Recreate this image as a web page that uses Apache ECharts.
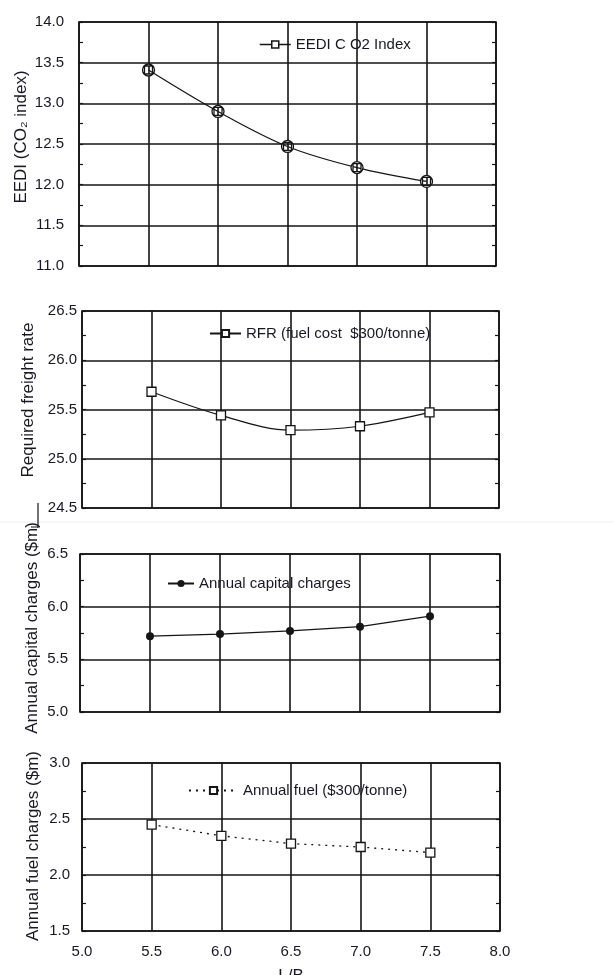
<!DOCTYPE html>
<html>
<head>
<meta charset="utf-8">
<script src="https://cdn.jsdelivr.net/npm/echarts@6/dist/echarts.min.js"></script>
<style>
  html, body { margin: 0; padding: 0; background: #fff; }
  #chart { width: 614px; height: 975px; }
</style>
</head>
<body>
<div id="chart"></div>
<script>
// Length/beam ratio sampled by the design study
const lbRatio = [5.5, 6.0, 6.5, 7.0, 7.5];
// EEDI CO2 index
const eediIndex = [13.41, 12.90, 12.47, 12.21, 12.04];
// Required freight rate at $300/tonne fuel
const freightRate = [25.68, 25.44, 25.29, 25.33, 25.47];
// Annual capital charges ($m)
const capitalCharges = [5.72, 5.74, 5.77, 5.81, 5.91];
// Annual fuel charges ($m) at $300/tonne
const fuelCharges = [2.45, 2.35, 2.28, 2.25, 2.20];

// Axis ranges per panel: [min, max]
const eediRange = [11, 14];
const rfrRange = [24.5, 26.5];
const capitalRange = [5, 6.5];
const fuelRange = [1.5, 3];
const xRange = [5, 8];

const seriesNames = [
  'EEDI C O2 Index',
  'RFR (fuel cost  $300/tonne)',
  'Annual capital charges',
  'Annual fuel ($300/tonne)'
];
const yNames = [
  'EEDI (CO\u2082 index)',
  'Required freight rate',
  'Annual capital charges ($m)',
  'Annual fuel charges ($m)'
];

const INK = '#151515';
const TXT = '#181824';
const FONT = '"Liberation Sans", Arial, sans-serif';

const pairs = vals => lbRatio.map((x, i) => [x, vals[i]]);

const grids = [
  { left: 79, top: 22, width: 417, height: 244 },
  { left: 82, top: 311, width: 417, height: 197 },
  { left: 80, top: 554, width: 420, height: 158 },
  { left: 82, top: 763, width: 418, height: 168 }
].map(g => Object.assign({
  show: true, borderColor: INK, borderWidth: 1.6, backgroundColor: 'transparent',
  containLabel: false, outerBoundsMode: 'none'
}, g));

const ranges = [eediRange, rfrRange, capitalRange, fuelRange];
const labelMargins = [15, 5, 12, 12];
// Rotated axis titles: centre point of each
const yNamePos = [[21, 137], [28, 400], [32, 628], [33, 846]];

const xAxes = grids.map((g, i) => ({
  type: 'value',
  gridIndex: i,
  min: xRange[0],
  max: xRange[1],
  interval: 0.5,
  axisLine: { show: false },
  axisTick: { show: false },
  splitLine: { show: true, lineStyle: { color: INK, width: 1.6 } },
  axisLabel: {
    show: i === 3,
    margin: 13,
    color: TXT,
    fontSize: 15,
    fontFamily: FONT,
    formatter: v => v.toFixed(1)
  },
  name: i === 3 ? 'L/B' : '',
  nameLocation: 'middle',
  nameGap: 37,
  nameMoveOverlap: false,
  nameTextStyle: { color: TXT, fontSize: 17, fontFamily: FONT }
}));

const leftY = grids.map((g, i) => ({
  type: 'value',
  gridIndex: i,
  position: 'left',
  min: ranges[i][0],
  max: ranges[i][1],
  interval: 0.5,
  axisLine: { show: false },
  axisTick: { show: true, inside: true, length: 4, lineStyle: { color: INK, width: 1.2 } },
  minorTick: { show: true, splitNumber: 2, length: 4, lineStyle: { color: INK, width: 1.2 } },
  splitLine: { show: true, lineStyle: { color: INK, width: 1.6 } },
  axisLabel: {
    margin: labelMargins[i],
    color: TXT,
    fontSize: 15,
    fontFamily: FONT,
    formatter: v => v.toFixed(1)
  }
}));

// Mirror axes on the right edge carry the inward minor ticks only
const rightY = grids.map((g, i) => ({
  type: 'value',
  gridIndex: i,
  position: 'right',
  min: ranges[i][0],
  max: ranges[i][1],
  interval: 0.5,
  axisLine: { show: false },
  axisTick: { show: true, inside: true, length: 4, lineStyle: { color: INK, width: 1.2 } },
  minorTick: { show: true, splitNumber: 2, length: 4, lineStyle: { color: INK, width: 1.2 } },
  splitLine: { show: false },
  axisLabel: { show: false }
}));

// Legend key for the EEDI series: line with a small open square
const lineSquareKey = 'path://M0,3.5H12M12,0H19V7H12ZM19,3.5H31';

const legendBase = {
  orient: 'horizontal',
  padding: 0,
  itemHeight: 9,
  itemGap: 0,
  textStyle: { color: TXT, fontSize: 15, fontFamily: FONT }
};
const legends = [
  {
    left: 259, top: 37, itemWidth: 31, itemHeight: 7,
    data: [{ name: seriesNames[0], icon: lineSquareKey,
      itemStyle: { color: '#fff', borderColor: INK, borderWidth: 1.5 } }]
  },
  { left: 209, top: 326, itemWidth: 31, data: [seriesNames[1]] },
  { left: 167, top: 576, itemWidth: 26, data: [seriesNames[2]] },
  { left: 188, top: 783, itemWidth: 49, data: [seriesNames[3]] }
].map(l => Object.assign({}, legendBase, l));

const lineStyle = { color: INK, width: 1.2 };
const openMarker = { color: '#fff', borderColor: INK, borderWidth: 1.3 };

// square overlaid on a ring
const squareRing = 'path://M0,6a6,6 0 1,0 12,0a6,6 0 1,0 -12,0zM2,2h8v8h-8z';

const series = [
  {
    name: seriesNames[0], type: 'line', xAxisIndex: 0, yAxisIndex: 0,
    data: pairs(eediIndex), smooth: 0.35,
    symbol: squareRing, symbolSize: 12,
    lineStyle: lineStyle, itemStyle: openMarker, z: 3
  },
  {
    name: seriesNames[1], type: 'line', xAxisIndex: 1, yAxisIndex: 1,
    data: pairs(freightRate), smooth: 0.35,
    symbol: 'rect', symbolSize: 9,
    lineStyle: lineStyle, itemStyle: openMarker, z: 3
  },
  {
    name: seriesNames[2], type: 'line', xAxisIndex: 2, yAxisIndex: 2,
    data: pairs(capitalCharges),
    symbol: 'circle', symbolSize: 8,
    lineStyle: lineStyle, itemStyle: { color: INK, borderColor: INK, borderWidth: 0 }, z: 3
  },
  {
    name: seriesNames[3], type: 'line', xAxisIndex: 3, yAxisIndex: 3,
    data: pairs(fuelCharges),
    symbol: 'rect', symbolSize: 9,
    lineStyle: { color: INK, width: 1.3, type: [2, 5] },
    itemStyle: openMarker, z: 3
  }
];

const yTitles = yNames.map((t, i) => ({
  type: 'text',
  x: yNamePos[i][0],
  y: yNamePos[i][1],
  rotation: Math.PI / 2,
  style: {
    text: t,
    fill: TXT,
    font: '17px ' + FONT,
    align: 'center',
    verticalAlign: 'middle'
  },
  silent: true
}));

const chart = echarts.init(document.getElementById('chart'), null, { renderer: 'canvas' });
chart.setOption({
  animation: false,
  backgroundColor: '#fff',
  textStyle: { fontFamily: FONT },
  grid: grids,
  xAxis: xAxes,
  yAxis: leftY.concat(rightY),
  legend: legends,
  series: series,
  graphic: yTitles.concat([
    { type: 'line', shape: { x1: 0, y1: 522, x2: 614, y2: 522 }, style: { stroke: '#f0f0f0', lineWidth: 1 }, silent: true },
    { type: 'line', shape: { x1: 38, y1: 503, x2: 38, y2: 528 }, style: { stroke: INK, lineWidth: 1.2 }, silent: true },
    { type: 'line', shape: { x1: 31, y1: 527, x2: 38, y2: 527 }, style: { stroke: INK, lineWidth: 1 }, silent: true }
  ])
});
</script>
</body>
</html>
